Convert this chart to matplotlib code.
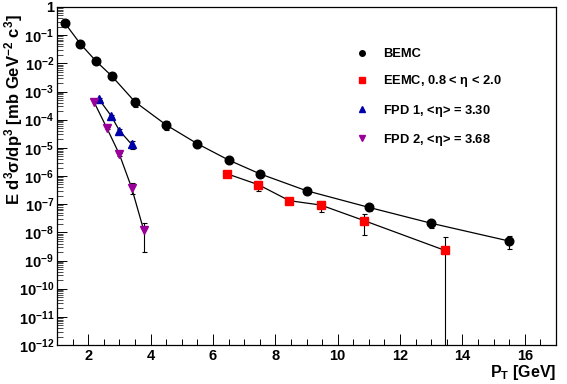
import math
import matplotlib
matplotlib.use("Agg")
import matplotlib.pyplot as plt
from matplotlib.ticker import LogLocator, MultipleLocator, FuncFormatter, NullFormatter
from matplotlib.lines import Line2D

plt.rcParams["font.family"] = ["Liberation Sans", "DejaVu Sans"]
plt.rcParams["font.weight"] = "bold"
plt.rcParams["axes.labelweight"] = "bold"
plt.rcParams["mathtext.fontset"] = "custom"
plt.rcParams["mathtext.rm"] = "Liberation Sans:bold"
plt.rcParams["mathtext.bf"] = "Liberation Sans:bold"
plt.rcParams["mathtext.it"] = "Liberation Sans:bold"
plt.rcParams["mathtext.default"] = "bf"

# BEMC
bemc_pt = [1.25, 1.75, 2.25, 2.75, 3.5, 4.5, 5.5, 6.5, 7.5, 9.0, 11.0, 13.0, 15.5]
bemc_y = [0.27, 0.049, 0.012, 3.6e-3, 4.3e-4, 6.5e-5, 1.4e-5, 3.7e-6, 1.2e-6,
          3.0e-7, 7.7e-8, 2.1e-8, 4.9e-9]
bemc_err = [0.01, 0.002, 0.001, 1.0e-3, 1.5e-4, 2.2e-5, 1.5e-6, 4e-7, 1.2e-7,
            6e-8, 2e-8, 7e-9, 2.3e-9]

# EEMC, 0.8 < eta < 2.0
eemc_pt = [6.45, 7.46, 8.45, 9.46, 10.85, 13.43]
eemc_y = [1.2e-6, 4.9e-7, 1.33e-7, 9.3e-8, 2.6e-8, 2.3e-9]
eemc_err = [2e-7, 2e-7, 3e-8, 4e-8, 1.8e-8, 4.4e-9]

# FPD 1
fpd1_pt = [2.34, 2.74, 3.0, 3.39]
fpd1_y = [5.4e-4, 1.35e-4, 4.1e-5, 1.34e-5]
fpd1_err = [3e-5, 1e-5, 4e-6, 4.5e-6]

# FPD 2
fpd2_pt = [2.18, 2.6, 3.0, 3.39, 3.78]
fpd2_y = [4.4e-4, 5.0e-5, 5.9e-6, 3.9e-7, 1.2e-8]
fpd2_err = [3e-5, 4e-6, 8e-7, 1.6e-7, 1.0e-8]

labels = ["BEMC", r"EEMC, 0.8 < $\eta$ < 2.0",
          r"FPD 1, <$\eta$> = 3.30", r"FPD 2, <$\eta$> = 3.68"]


def draw_series(ax, x, y, err, marker, color, ms):
    ax.errorbar(x, y, yerr=err, fmt="-", color="black", lw=0.9,
                ecolor="black", elinewidth=0.8, capsize=1.8, capthick=0.8,
                marker=marker, ms=ms, mfc=color, mec=color, zorder=3)


fig = plt.figure(figsize=(5.67, 3.84), dpi=100)
ax = fig.add_axes([57 / 567, 39 / 384, 499 / 567, 338 / 384])

draw_series(ax, bemc_pt, bemc_y, bemc_err, "o", "black", 6.2)
draw_series(ax, eemc_pt, eemc_y, eemc_err, "s", "#ff0000", 5.8)
draw_series(ax, fpd1_pt, fpd1_y, fpd1_err, "^", "#0000aa", 6.0)
draw_series(ax, fpd2_pt, fpd2_y, fpd2_err, "v", "#990099", 6.0)

ax.set_yscale("log")
ax.set_xlim(1, 17)
ax.set_ylim(1e-12, 1)

# ROOT-like ticks: inside, only left/bottom
ax.xaxis.set_major_locator(MultipleLocator(2))
ax.xaxis.set_minor_locator(MultipleLocator(0.5))
ax.yaxis.set_major_locator(LogLocator(base=10, numticks=20))
ax.yaxis.set_minor_locator(LogLocator(base=10, subs=range(2, 10), numticks=20))
ax.yaxis.set_minor_formatter(NullFormatter())


def yfmt(v, pos):
    if abs(v - 1) < 1e-9:
        return "1"
    return r"$10^{%d}$" % int(round(math.log10(v)))


ax.yaxis.set_major_formatter(FuncFormatter(yfmt))
ax.tick_params(which="both", direction="in", top=False, right=False,
               labelsize=10.5, width=0.7)
ax.tick_params(axis="x", which="major", length=8, pad=3)
ax.tick_params(axis="x", which="minor", length=4)
ax.tick_params(axis="y", which="major", length=7, pad=2)
ax.tick_params(axis="y", which="minor", length=4, width=0.5)
for s in ax.spines.values():
    s.set_linewidth(0.9)

ax.set_xlabel(r"P$_{T}$ [GeV]", loc="right", fontsize=11.5, labelpad=0)
fig.text(14 / 567, 1 - 110 / 384,
         r"E d$^{3}\sigma$/dp$^{3}$ [mb GeV$^{-2}$ c$^{3}$]",
         rotation=90, ha="center", va="center", fontsize=12)

# legend (no frame, small markers)
handles = [
    Line2D([], [], ls="none", marker="o", ms=4, mfc="black", mec="black"),
    Line2D([], [], ls="none", marker="s", ms=4, mfc="#ff0000", mec="#ff0000"),
    Line2D([], [], ls="none", marker="^", ms=4, mfc="#0000aa", mec="#0000aa"),
    Line2D([], [], ls="none", marker="v", ms=4, mfc="#990099", mec="#990099"),
]
ax.legend(handles, labels, loc="upper left", frameon=False, fontsize=9.3,
          bbox_to_anchor=(356 / 567, 1 - 48 / 384), bbox_transform=fig.transFigure,
          borderpad=0, borderaxespad=0, handlelength=1.0, handletextpad=1.1,
          labelspacing=1.03)

fig.savefig("out.png", dpi=100)
